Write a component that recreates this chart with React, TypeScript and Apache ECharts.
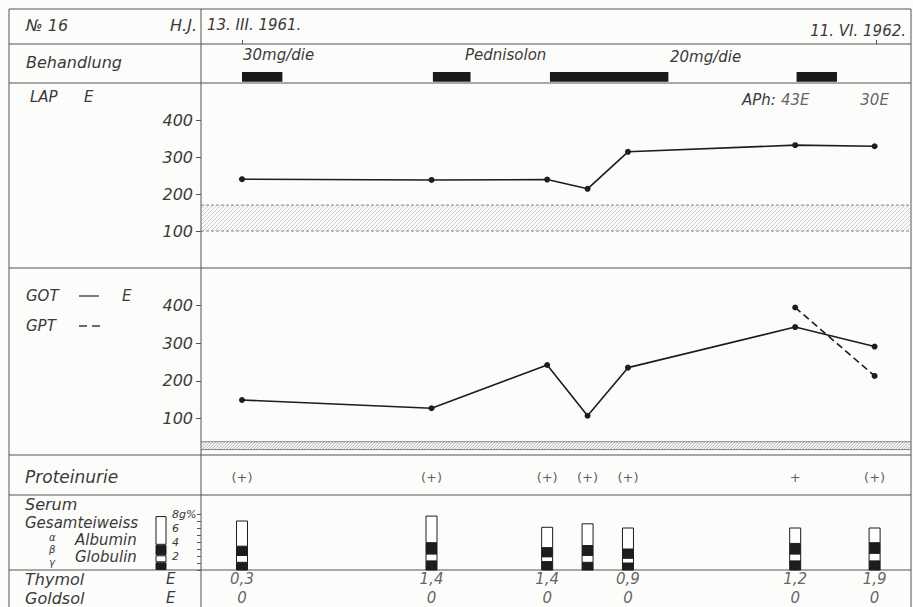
import React, { useEffect, useRef } from "react";
import * as echarts from "echarts";

// ---- data (days counted from 13. III. 1961) ----
const DAYS = [0, 136, 219, 248, 277, 397, 454];
const END_DAY = 455;
const LAP = [240, 238, 239, 214, 314, 332, 329];
const GOT = [149, 127, 242, 107, 235, 343, 291];
const GPT: (number | null)[] = [null, null, null, null, null, 395, 213];
const LAP_NORMAL = [100, 170];
const GOT_NORMAL = [17, 38];
const TREATMENT = [
  [0, 29],
  [137, 164],
  [221, 306],
  [398, 427],
];
const APH: (string | null)[] = [null, null, null, null, null, "43E", "30E"];
const PROTEINURIE = ["(+)", "(+)", "(+)", "(+)", "(+)", "+", "(+)"];
// serum electrophoresis, g% (stacked from bottom: gamma, beta, alpha, albumin)
const GAMMA = [1.1, 1.3, 1.2, 1.1, 1.0, 1.3, 1.3];
const BETA = [1.0, 1.0, 0.7, 1.0, 0.7, 1.0, 1.1];
const ALPHA = [1.3, 1.6, 1.3, 1.4, 1.3, 1.5, 1.5];
const ALBUMIN = [3.6, 3.8, 2.9, 3.1, 3.0, 2.2, 2.1];
const LEGEND_GAMMA = [1.1];
const LEGEND_BETA = [1.0];
const LEGEND_ALPHA = [1.5];
const LEGEND_ALBUMIN = [4.1];
const THYMOL: (string | null)[] = ["0,3", "1,4", "1,4", null, "0,9", "1,2", "1,9"];
const GOLDSOL: (string | null)[] = ["0", "0", "0", null, "0", "0", "0"];
const ENZYME_TICKS = [100, 200, 300, 400];
const SERUM_TICKS = [2, 4, 6, 8];

// ---- layout / style ----
const W = 913;
const H = 607;
const PX_PER_DAY = 634 / END_DAY;
const PLOT_LEFT = 201;
const PLOT_RIGHT = 911;
const X_MIN = -(242 - PLOT_LEFT) / PX_PER_DAY;
const X_MAX = X_MIN + (PLOT_RIGHT - PLOT_LEFT) / PX_PER_DAY;
const FONT = "'DejaVu Sans', 'Liberation Sans', sans-serif";
const INK = "#1d1d1d";
const TXT = "#3a3a3a";
const RULE = "#555";
const SEG_COLORS = [INK, "#fff", INK, "#fff"];

const txt = (text: string, x: number, y: number, extra: any = {}) => ({
  type: "text",
  silent: true,
  style: {
    text,
    x,
    y,
    fill: TXT,
    fontFamily: FONT,
    fontStyle: "italic",
    fontSize: 15,
    align: "left",
    verticalAlign: "middle",
    ...extra,
  },
});
const rule = (x1: number, y1: number, x2: number, y2: number, extra: any = {}) => ({
  type: "line",
  silent: true,
  shape: { x1, y1, x2, y2 },
  style: { stroke: RULE, lineWidth: 1, ...extra },
});

function hatch(lo: number, hi: number, spacing: number, color: string, borderDash: any) {
  return (params: any, api: any) => {
    const cs = params.coordSys;
    const yb = api.coord([0, lo])[1];
    const yt = api.coord([0, hi])[1];
    const x0 = cs.x;
    const x1 = cs.x + cs.width;
    const h = yb - yt;
    const children: any[] = [];
    for (let t = x0 - h; t < x1; t += spacing) {
      let sx = t, sy = yb, ex = t + h, ey = yt;
      if (sx < x0) { sy = yb - (x0 - sx); sx = x0; }
      if (ex > x1) { ey = yt + (ex - x1); ex = x1; }
      children.push({ type: "line", shape: { x1: sx, y1: sy, x2: ex, y2: ey }, style: { stroke: color, lineWidth: 0.6 } });
    }
    children.push({ type: "line", shape: { x1: x0, y1: yt, x2: x1, y2: yt }, style: { stroke: "#666", lineWidth: 0.8, lineDash: borderDash } });
    children.push({ type: "line", shape: { x1: x0, y1: yb, x2: x1, y2: yb }, style: { stroke: "#666", lineWidth: 0.8, lineDash: borderDash } });
    return { type: "group", children };
  };
}

function buildOption(): any {
  const gridX = { left: PLOT_LEFT, width: PLOT_RIGHT - PLOT_LEFT };
  const grids = [
    { ...gridX, top: 44, height: 39 }, // 0 treatment
    { ...gridX, top: 83, height: 185 }, // 1 LAP
    { ...gridX, top: 268, height: 188 }, // 2 GOT/GPT
    { ...gridX, top: 455, height: 40 }, // 3 Proteinurie
    { ...gridX, top: 514, height: 56 }, // 4 Serum
    { ...gridX, top: 570, height: 37 }, // 5 Thymol/Goldsol
    { left: 155, width: 12, top: 514, height: 56 }, // 6 legend bar
  ];
  const xv = (gridIndex: number) => ({ type: "value", gridIndex, min: X_MIN, max: X_MAX, show: false });
  const xAxis: any[] = [
    {
      type: "value",
      gridIndex: 0,
      min: X_MIN,
      max: X_MAX,
      position: "top",
      axisLine: { show: false, onZero: false },
      axisLabel: { show: false },
      splitLine: { show: false },
      axisTick: { show: true, customValues: [0, END_DAY], length: 4, lineStyle: { color: RULE } },
    },
    xv(1), xv(2), xv(3), xv(4), xv(5),
    { type: "category", gridIndex: 6, data: ["ref"], show: false },
  ];
  const enzymeY = (gridIndex: number) => ({
    type: "value",
    gridIndex,
    min: 0,
    max: 500,
    interval: 100,
    axisLine: { show: false, onZero: false },
    splitLine: { show: false },
    axisTick: { show: true, customValues: ENZYME_TICKS, length: 5, lineStyle: { color: RULE } },
    axisLabel: {
      customValues: ENZYME_TICKS,
      formatter: (v: number) => (ENZYME_TICKS.includes(v) ? String(v) : ""),
      margin: 8,
      color: TXT,
      fontSize: 16,
      fontStyle: "italic",
      fontFamily: FONT,
    },
  });
  const hiddenY = (gridIndex: number, max = 1) => ({ type: "value", gridIndex, min: 0, max, show: false });
  const yAxis: any[] = [
    hiddenY(0),
    enzymeY(1),
    enzymeY(2),
    hiddenY(3),
    {
      type: "value",
      gridIndex: 4,
      min: 0,
      max: 8,
      interval: 1,
      axisLine: { show: false, onZero: false },
      splitLine: { show: false },
      axisTick: { show: true, length: 4, lineStyle: { color: RULE } },
      axisLabel: {
        margin: 29,
        align: "left",
        color: TXT,
        fontSize: 11,
        fontStyle: "italic",
        fontFamily: FONT,
        formatter: (v: number) => (v === 8 ? "8g%" : SERUM_TICKS.includes(v) ? String(v) : ""),
      },
    },
    hiddenY(5),
    hiddenY(6, 8),
  ];

  const labelSeries = (gi: number, y: number, texts: (string | null)[], extra: any = {}) => ({
    type: "scatter",
    xAxisIndex: gi,
    yAxisIndex: gi,
    symbol: "circle",
    symbolSize: 1,
    itemStyle: { color: "transparent" },
    silent: true,
    data: DAYS.map((d, i) => (texts[i] == null ? null : { value: [d, y], name: texts[i] })).filter(Boolean),
    label: {
      show: true,
      position: "inside",
      formatter: "{b}",
      color: TXT,
      fontFamily: FONT,
      fontStyle: "italic",
      fontWeight: 300,
      fontSize: 15,
      ...extra,
    },
  });

  const legendBar = (vals: number[], color: string) => ({
    type: "bar",
    xAxisIndex: 6,
    yAxisIndex: 6,
    stack: "legend",
    barWidth: 11,
    silent: true,
    data: vals,
    itemStyle: { color, borderColor: INK, borderWidth: 1 },
  });

  const series: any[] = [
    {
      type: "custom",
      xAxisIndex: 0,
      yAxisIndex: 0,
      silent: true,
      data: TREATMENT,
      renderItem: (params: any, api: any) => {
        const p0 = api.coord([api.value(0), 0.28]);
        const p1 = api.coord([api.value(1), 0.03]);
        return { type: "rect", shape: { x: p0[0], y: p0[1], width: p1[0] - p0[0], height: p1[1] - p0[1] }, style: { fill: "#1a1a1a" } };
      },
    },
    {
      type: "custom",
      xAxisIndex: 1,
      yAxisIndex: 1,
      silent: true,
      data: [[0, LAP_NORMAL[0]]],
      renderItem: hatch(LAP_NORMAL[0], LAP_NORMAL[1], 4, "#aaa", [3, 2]),
      z: 1,
    },
    {
      type: "line",
      xAxisIndex: 1,
      yAxisIndex: 1,
      silent: true,
      data: DAYS.map((d, i) => [d, LAP[i]]),
      symbol: "circle",
      symbolSize: 6,
      itemStyle: { color: INK },
      lineStyle: { color: INK, width: 1.6 },
      z: 3,
    },
    labelSeries(1, 455, APH, { fontWeight: "normal" }),
    {
      type: "custom",
      xAxisIndex: 2,
      yAxisIndex: 2,
      silent: true,
      data: [[0, GOT_NORMAL[0]]],
      renderItem: hatch(GOT_NORMAL[0], GOT_NORMAL[1], 3, "#777", null),
      z: 1,
    },
    {
      type: "line",
      xAxisIndex: 2,
      yAxisIndex: 2,
      silent: true,
      data: DAYS.map((d, i) => [d, GOT[i]]),
      symbol: "circle",
      symbolSize: 6,
      itemStyle: { color: INK },
      lineStyle: { color: INK, width: 1.6 },
      z: 3,
    },
    {
      type: "line",
      xAxisIndex: 2,
      yAxisIndex: 2,
      silent: true,
      data: DAYS.map((d, i) => (GPT[i] == null ? null : [d, GPT[i]])).filter(Boolean),
      symbol: "circle",
      symbolSize: 6,
      itemStyle: { color: INK },
      lineStyle: { color: INK, width: 1.6, type: [7, 4] },
      z: 3,
    },
    labelSeries(3, 0.45, PROTEINURIE, { fontStyle: "normal", fontWeight: "normal", fontSize: 13, color: "#333" }),
    {
      type: "custom",
      xAxisIndex: 4,
      yAxisIndex: 4,
      silent: true,
      data: DAYS.map((d, i) => [d, GAMMA[i], BETA[i], ALPHA[i], ALBUMIN[i]]),
      encode: { x: 0, y: [1, 2, 3, 4] },
      renderItem: (params: any, api: any) => {
        const x = api.value(0);
        let acc = 0;
        const children: any[] = [];
        for (let j = 0; j < 4; j++) {
          const v = api.value(j + 1);
          const top = api.coord([x, acc + v]);
          const bot = api.coord([x, acc]);
          children.push({
            type: "rect",
            shape: { x: top[0] - 5.5, y: top[1], width: 11, height: bot[1] - top[1] },
            style: { fill: SEG_COLORS[j], stroke: INK, lineWidth: 1 },
          });
          acc += v;
        }
        return { type: "group", children };
      },
    },
    legendBar(LEGEND_GAMMA, INK),
    legendBar(LEGEND_BETA, "#fff"),
    legendBar(LEGEND_ALPHA, INK),
    legendBar(LEGEND_ALBUMIN, "#fff"),
    labelSeries(5, 0.757, THYMOL),
    labelSeries(5, 0.243, GOLDSOL),
  ];

  const graphic: any[] = [
    rule(9, 9, 911, 9),
    rule(9, 9, 9, H),
    rule(911, 9, 911, H),
    rule(201, 9, 201, H),
    rule(9, 44, 911, 44),
    rule(9, 83, 911, 83),
    rule(9, 268, 911, 268),
    rule(9, 455, 911, 455),
    rule(9, 495, 911, 495),
    rule(9, 570, 911, 570),
    txt("№ 16", 26, 25, { fontSize: 16 }),
    txt("H.J.", 197, 25, { align: "right", fontSize: 16 }),
    txt("13. III. 1961.", 207, 25, { fontSize: 15 }),
    txt("11. VI. 1962.", 906, 31, { align: "right", fontSize: 15 }),
    txt("Behandlung", 26, 62, { fontSize: 16 }),
    txt("30mg/die", 243, 55, { fontSize: 15 }),
    txt("Pednisolon", 465, 55, { fontSize: 15 }),
    txt("20mg/die", 670, 57, { fontSize: 15 }),
    txt("LAP", 30, 97, { fontSize: 15 }),
    txt("E", 84, 97, { fontSize: 15 }),
    txt("APh:", 742, 100, { fontSize: 15 }),
    txt("GOT", 26, 296, { fontSize: 15 }),
    txt("E", 122, 296, { fontSize: 15 }),
    txt("GPT", 26, 326, { fontSize: 15 }),
    rule(79, 296, 99, 296, { stroke: TXT, lineWidth: 1.3 }),
    rule(79, 326, 100, 326, { stroke: TXT, lineWidth: 1.3, lineDash: [8, 5] }),
    txt("Proteinurie", 25, 477, { fontSize: 17 }),
    txt("Serum", 25, 504, { fontSize: 16 }),
    txt("Gesamteiweiss", 25, 523, { fontSize: 15 }),
    txt("α", 49, 537, { fontSize: 10 }),
    txt("Albumin", 75, 540, { fontSize: 15 }),
    txt("β", 49, 549, { fontSize: 10 }),
    txt("Globulin", 75, 557, { fontSize: 15 }),
    txt("γ", 49, 562, { fontSize: 10 }),
    txt("Thymol", 25, 579, { fontSize: 16 }),
    txt("E", 166, 579, { fontSize: 15 }),
    txt("Goldsol", 25, 598, { fontSize: 16 }),
    txt("E", 166, 598, { fontSize: 15 }),
  ];

  return {
    animation: false,
    backgroundColor: "#fcfcfa",
    grid: grids,
    xAxis,
    yAxis,
    series,
    graphic,
  };
}

export default function App() {
  const ref = useRef<HTMLDivElement>(null);
  useEffect(() => {
    document.body.style.margin = "0";
    const chart = echarts.init(ref.current!, null, { renderer: "svg" });
    chart.setOption(buildOption());
    return () => chart.dispose();
  }, []);
  return <div ref={ref} style={{ width: W, height: H }} />;
}
